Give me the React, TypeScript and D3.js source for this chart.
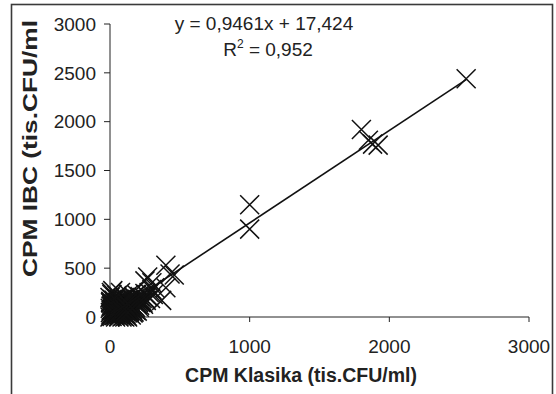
import React from "react";
import * as d3 from "d3";

const xTicks = [0, 1000, 2000, 3000];
const yTicks = [0, 500, 1000, 1500, 2000, 2500, 3000];

// Observed points: CPM Klasika (x) vs CPM IBC (y), tis.CFU/ml
const klasika = [
  0, 5, 10, 15, 20, 25, 30, 35, 40, 45, 50, 55, 60, 65, 70, 75, 80, 85, 90, 95,
  100, 105, 110, 115, 120, 125, 130, 135, 140, 145, 150, 155, 160, 165, 170, 175,
  180, 185, 190, 195, 200, 210, 215, 220, 230, 240, 250, 260, 270, 280, 290, 300,
  310, 320, 0, 10, 20, 250, 270, 300, 370, 400, 400, 430, 460,
  2, 8, 12, 18, 22, 28, 33, 38, 42, 48, 52, 58, 62, 68, 72, 78, 82, 88, 92, 98,
  102, 108, 112, 118, 122, 128, 132, 138, 142, 148, 152, 158, 162, 168, 172, 178,
  182, 188, 195, 205, 212, 225, 235, 245, 6, 14, 26, 44, 64, 86, 106, 126,
  3, 7, 11, 16, 21, 27, 31, 36, 41, 46, 51, 57, 61, 66, 71, 76, 81, 87, 91, 96,
  101, 107, 111, 117, 121, 127, 131, 137, 141, 147, 4, 9, 13, 19, 24, 29, 34, 39,
  43, 49, 53, 59, 63, 69, 73, 79, 83, 89, 93, 99, 103, 109, 114, 119, 124, 129,
  1000, 1000, 1800, 1850, 1880, 1920, 2550,
];
const ibc = [
  0, 20, 60, 5, 110, 40, 170, 80, 0, 130, 220, 60, 100, 20, 160, 250, 50, 120, 190, 10,
  90, 140, 200, 30, 70, 170, 110, 230, 60, 150, 90, 190, 130, 40, 210, 110,
  160, 70, 230, 130, 180, 100, 210, 150, 190, 130, 240, 170, 210, 250, 190, 280,
  230, 300, 200, 250, 270, 370, 410, 350, 170, 300, 530, 440, 430,
  90, 140, 30, 180, 70, 120, 15, 200, 95, 45, 150, 110, 5, 180, 75, 130, 25, 160, 95, 60,
  200, 30, 120, 160, 10, 90, 140, 50, 180, 110, 20, 130, 80, 160, 50, 190,
  100, 140, 60, 150, 120, 170, 150, 200, 160, 230, 80, 100, 0, 0, 0, 0,
  45, 110, 75, 130, 35, 95, 55, 145, 25, 85, 65, 125, 40, 100, 140, 30, 70, 105, 50, 120,
  35, 80, 160, 55, 110, 45, 90, 125, 65, 100, 150, 70, 120, 40, 85, 135, 60, 100,
  20, 75, 115, 35, 90, 130, 55, 25, 110, 70, 150, 40, 85, 120, 60, 100, 140, 45,
  1150, 900, 1920, 1810, 1770, 1760, 2440,
];

const slope = 0.9461;
const intercept = 17.424;
const equationText = "y = 0,9461x + 17,424";
const r2Value = "0,952";
const xTitle = "CPM Klasika (tis.CFU/ml)";
const yTitle = "CPM IBC (tis.CFU/ml";

export default function App() {
  const W = 556;
  const H = 394;
  const x = d3.scaleLinear().domain([0, 3000]).range([110, 529]);
  const y = d3.scaleLinear().domain([0, 3000]).range([317, 24]);
  const font = "'Liberation Sans', Arial, Helvetica, sans-serif";
  const s = 9.5;
  const n = Math.min(klasika.length, ibc.length);
  const pts = d3.range(n).map((i) => [klasika[i], ibc[i]] as [number, number]);
  const xMin = d3.min(pts, (p) => p[0]) as number;
  const xMax = d3.max(pts, (p) => p[0]) as number;
  const line = d3
    .line<number>()
    .x((d) => x(d))
    .y((d) => y(slope * d + intercept));

  return (
    <svg
      width={W}
      height={H}
      style={{ position: "absolute", left: 0, top: 0, background: "#fff" }}
      fontFamily={font}
    >
      <rect x={11.5} y={4.5} width={541} height={420} fill="#fff" stroke="#3a3a3a" strokeWidth={1.6} />
      {/* y axis */}
      <line x1={x(0)} x2={x(0)} y1={y(3000)} y2={y(0)} stroke="#222" strokeWidth={1} />
      {yTicks.map((t) => (
        <g key={"y" + t}>
          <line x1={x(0) - 6} x2={x(0)} y1={y(t)} y2={y(t)} stroke="#222" strokeWidth={1} />
          <text x={96} y={y(t) + 6.8} fontSize={19} textAnchor="end" fill="#222">
            {t}
          </text>
        </g>
      ))}
      {/* x axis */}
      <line x1={x(0)} x2={x(3000)} y1={y(0)} y2={y(0)} stroke="#222" strokeWidth={1} />
      {xTicks.map((t) => (
        <g key={"x" + t}>
          <line x1={x(t)} x2={x(t)} y1={y(0)} y2={y(0) + 5} stroke="#222" strokeWidth={1} />
          <text x={x(t)} y={353} fontSize={19} textAnchor="middle" fill="#222">
            {t}
          </text>
        </g>
      ))}
      {/* markers */}
      {pts.map(([kx, ky], i) => {
        const cx = x(kx);
        const cy = y(ky);
        return (
          <path
            key={"m" + i}
            d={`M${cx - s},${cy - s}L${cx + s},${cy + s}M${cx - s},${cy + s}L${cx + s},${cy - s}`}
            stroke="#111"
            strokeWidth={1.5}
            fill="none"
          />
        );
      })}
      {/* trendline */}
      <path d={line([xMin, xMax]) || ""} stroke="#111" strokeWidth={1.6} fill="none" />
      {/* equation */}
      <text x={264} y={30} fontSize={19} textAnchor="middle" fill="#222">
        {equationText}
      </text>
      <text x={268} y={56} fontSize={19} textAnchor="middle" fill="#222">
        R<tspan fontSize={12} dy={-8}>2</tspan>
        <tspan dy={8}>{" = " + r2Value}</tspan>
      </text>
      {/* titles */}
      <text x={301} y={382} fontSize={19.5} fontWeight="bold" textAnchor="middle" fill="#222">
        {xTitle}
      </text>
      <text
        transform={`translate(37,${(277 + 20) / 2}) rotate(-90)`}
        fontSize={20}
        fontWeight="bold"
        textAnchor="middle"
        fill="#222"
        textLength={257}
        lengthAdjust="spacingAndGlyphs"
      >
        {yTitle}
      </text>
    </svg>
  );
}
